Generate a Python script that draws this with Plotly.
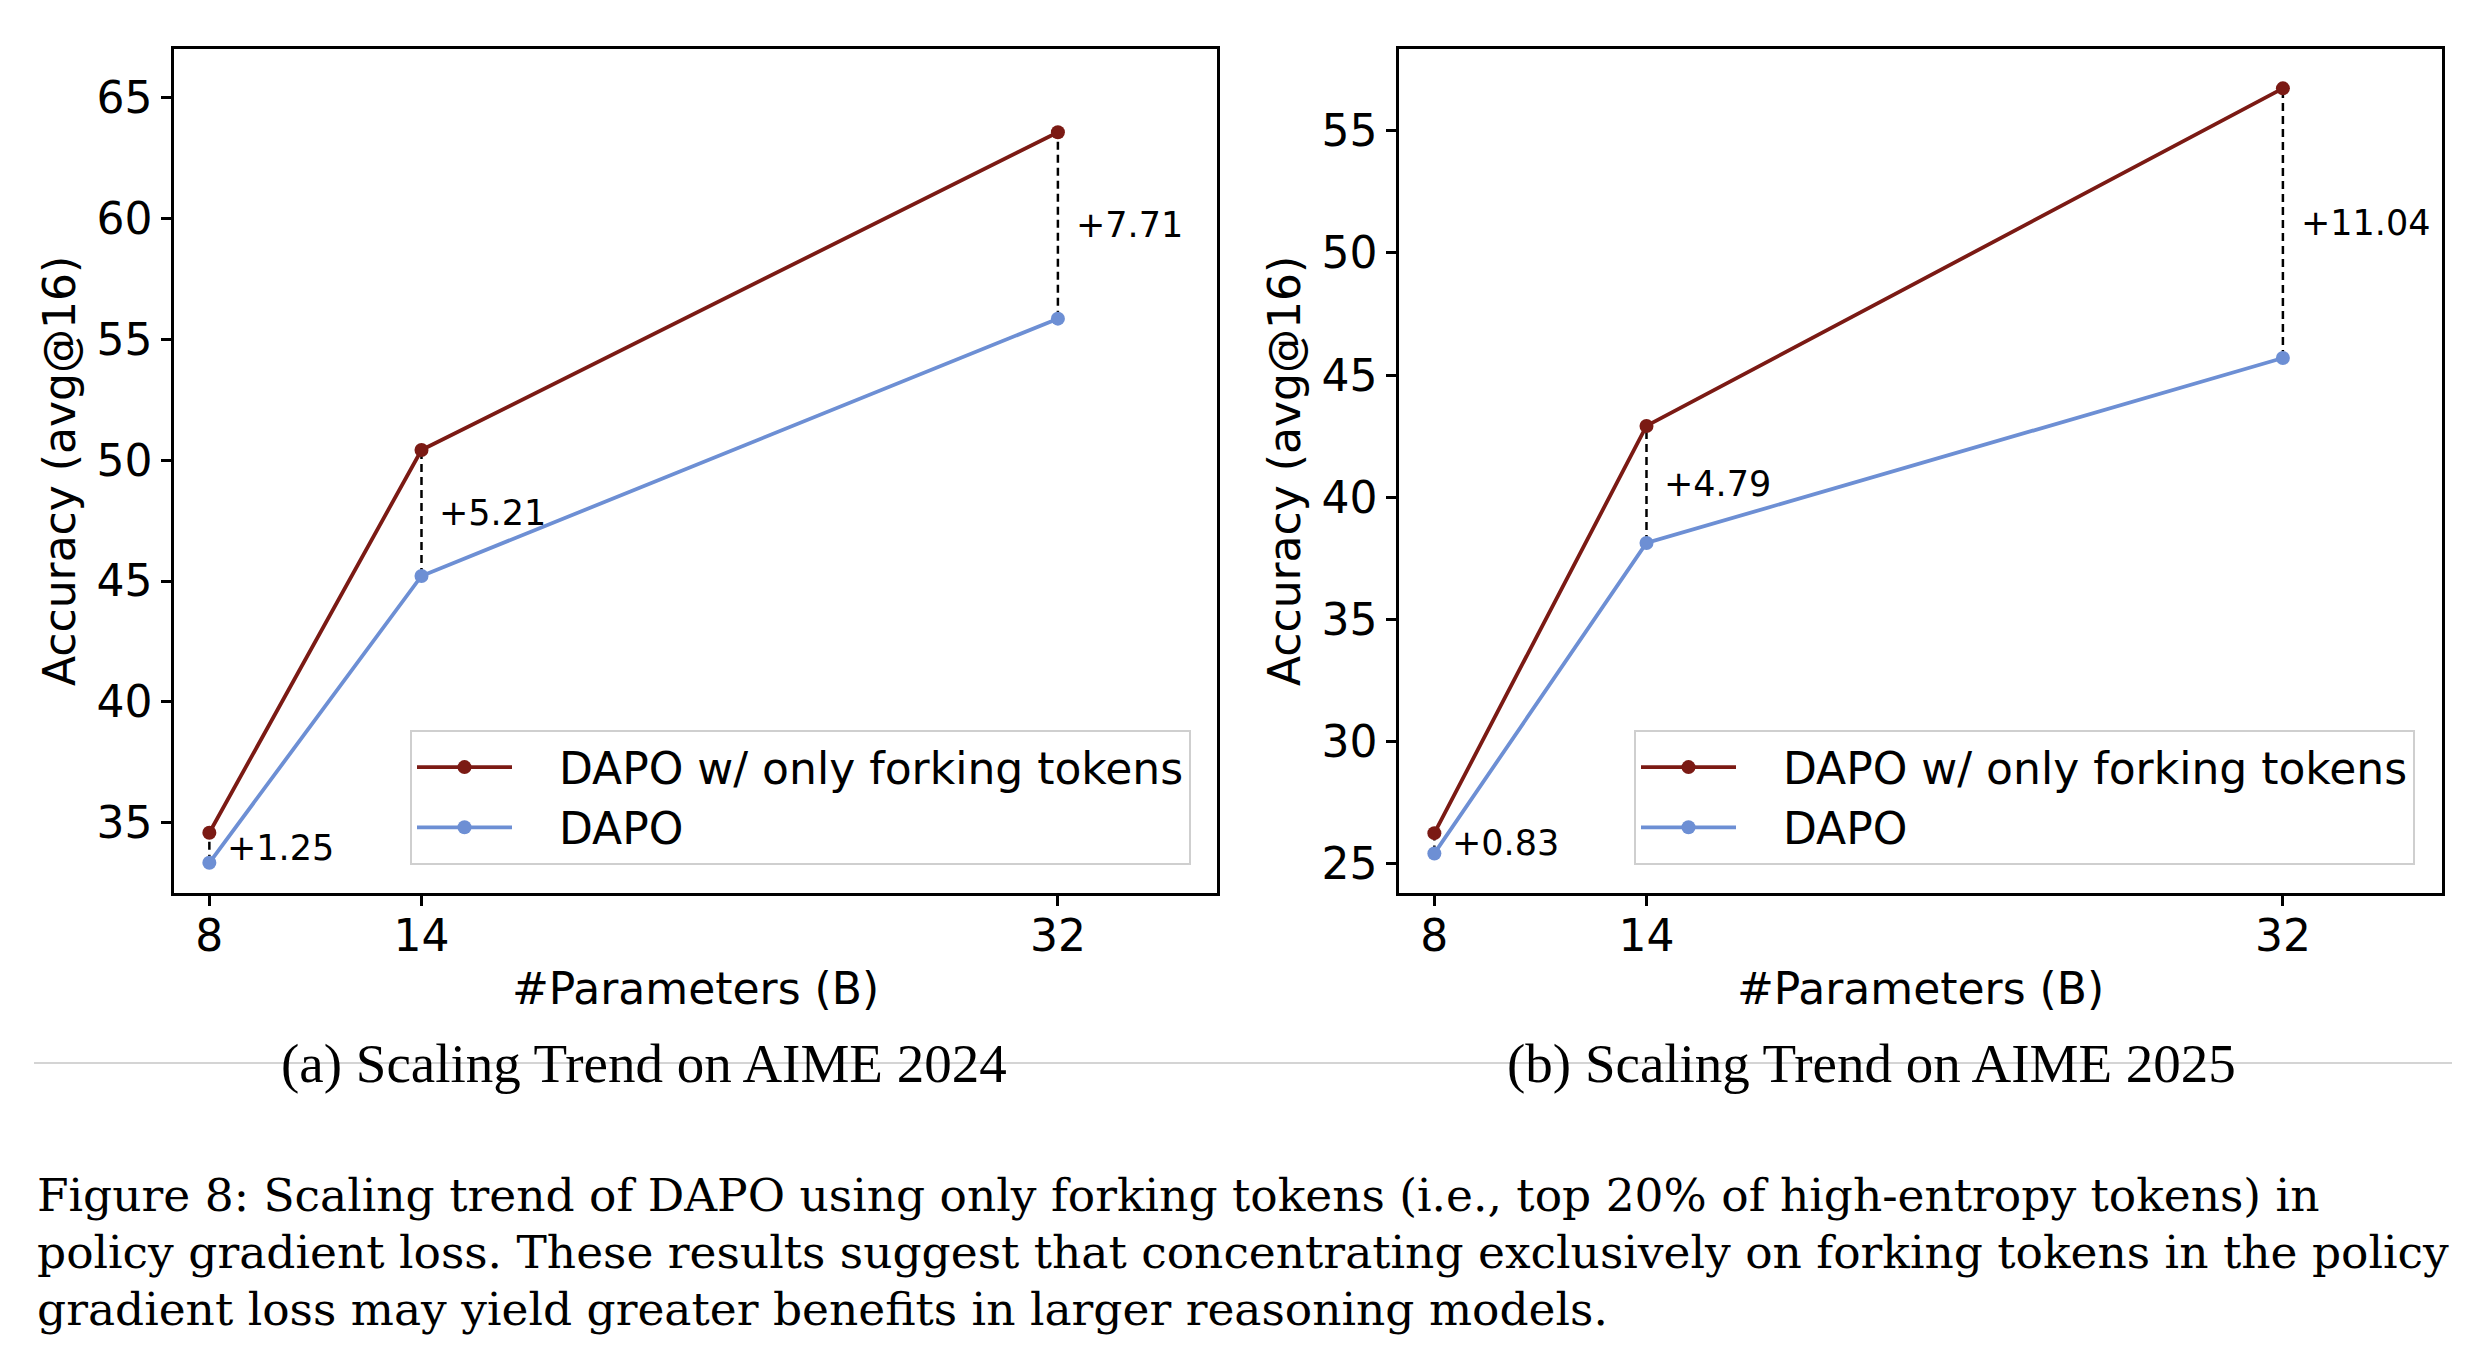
import plotly.graph_objects as go

# ---------------- data ----------------
params = [8, 14, 32]
x_ticks = [8, 14, 32]

aime24_forking = [34.59, 50.42, 63.56]
aime24_dapo = [33.35, 45.21, 55.85]
aime24_gain_labels = ["+1.25", "+5.21", "+7.71"]

aime25_forking = [26.25, 42.92, 56.74]
aime25_dapo = [25.42, 38.13, 45.70]
aime25_gain_labels = ["+0.83", "+4.79", "+11.04"]

y_ticks_24 = [35, 40, 45, 50, 55, 60, 65]
y_ticks_25 = [25, 30, 35, 40, 45, 50, 55]

series_names = ["DAPO w/ only forking tokens", "DAPO"]
subcaptions = ["(a) Scaling Trend on AIME 2024", "(b) Scaling Trend on AIME 2025"]
caption_lines = [
    "Figure 8: Scaling trend of DAPO using only forking tokens (i.e., top 20% of high-entropy tokens) in",
    "policy gradient loss. These results suggest that concentrating exclusively on forking tokens in the policy",
    "gradient loss may yield greater benefits in larger reasoning models.",
]

# ---------------- style ----------------
RED = "#7b1a14"
BLUE = "#6d8fd4"
PAGE_W, PAGE_H = 2476, 1358
OFF = 8  # default body margin of the html page
W, H = PAGE_W - 2 * OFF, PAGE_H - 2 * OFF
FONT = "DejaVu Sans"
SERIF = "Liberation Serif"
CAP_SERIF = "DejaVu Serif"


def px(xo):
    return (xo - OFF) / W


def py(yo):
    return 1 - (yo - OFF) / H


fig = go.Figure()

panels = [
    dict(xa="x", ya="y", legend="legend", fork=aime24_forking, dapo=aime24_dapo,
         gains=aime24_gain_labels),
    dict(xa="x2", ya="y2", legend="legend2", fork=aime25_forking, dapo=aime25_dapo,
         gains=aime25_gain_labels),
]

NB = "\u00a0\u00a0\u00a0"

for p in panels:
    for i, xv in enumerate(params):
        fig.add_trace(go.Scatter(
            x=[xv, xv], y=[p["dapo"][i], p["fork"][i]], mode="lines",
            line=dict(color="black", width=2.5, dash="8px,5px"),
            xaxis=p["xa"], yaxis=p["ya"], showlegend=False, hoverinfo="skip"))
    fig.add_trace(go.Scatter(
        x=params, y=p["fork"], mode="lines+markers", name=NB + series_names[0],
        line=dict(color=RED, width=3.8), marker=dict(color=RED, size=14),
        xaxis=p["xa"], yaxis=p["ya"], legend=p["legend"], legendgroup="a"))
    fig.add_trace(go.Scatter(
        x=params, y=p["dapo"], mode="lines+markers", name=NB + series_names[1],
        line=dict(color=BLUE, width=3.8), marker=dict(color=BLUE, size=14),
        xaxis=p["xa"], yaxis=p["ya"], legend=p["legend"], legendgroup="b"))
    for i, xv in enumerate(params):
        fig.add_annotation(
            x=xv, y=(p["fork"][i] + p["dapo"][i]) / 2, xref=p["xa"], yref=p["ya"],
            text=p["gains"][i], showarrow=False, xanchor="left", yanchor="middle",
            xshift=16, font=dict(family=FONT, size=35, color="black"))

ydom = [py(893), py(49)]
axis_common = dict(
    showline=True, mirror=True, linecolor="black", linewidth=2.5,
    ticks="outside", ticklen=10, tickwidth=2.5, tickcolor="black",
    showgrid=False, zeroline=False,
    tickfont=dict(family=FONT, size=44, color="black"),
)

legend_common = dict(
    xanchor="left", yanchor="top", bordercolor="#cfcfcf", borderwidth=2,
    bgcolor="rgba(255,255,255,0.8)", font=dict(family=FONT, size=44, color="black"),
    itemwidth=95, tracegroupgap=4, traceorder="normal")

fig.update_layout(
    width=W, height=H, margin=dict(l=0, r=0, t=0, b=0),
    paper_bgcolor="white", plot_bgcolor="white",
    font=dict(family=FONT, color="black"),
    xaxis=dict(domain=[px(174), px(1217)], range=[7, 36.5], tickvals=x_ticks,
               ticklabelstandoff=-8,
               title=dict(text="#Parameters (B)", font=dict(size=44), standoff=14),
               anchor="y", **axis_common),
    yaxis=dict(domain=ydom, range=[32.1, 67.0], tickvals=y_ticks_24,
               title=dict(text="Accuracy (avg@16)", font=dict(size=44), standoff=8),
               anchor="x", **axis_common),
    xaxis2=dict(domain=[px(1399), px(2442)], range=[7, 36.5], tickvals=x_ticks,
                ticklabelstandoff=-8,
                title=dict(text="#Parameters (B)", font=dict(size=44), standoff=14),
                anchor="y2", **axis_common),
    yaxis2=dict(domain=ydom, range=[23.8, 58.35], tickvals=y_ticks_25,
                title=dict(text="Accuracy (avg@16)", font=dict(size=44), standoff=8),
                anchor="x2", **axis_common),
    legend=dict(x=px(410), y=py(730), **legend_common),
    legend2=dict(x=px(1634), y=py(730), **legend_common),
)

# separator line behind subcaptions
fig.add_shape(type="line", xref="paper", yref="paper", x0=px(34), x1=px(2452),
              y0=py(1063), y1=py(1063), line=dict(color="#d4d4d4", width=2),
              layer="below")

for cx, txt in zip([644, 1871], subcaptions):
    fig.add_annotation(x=px(cx), y=py(1063), xref="paper", yref="paper", text=txt,
                       showarrow=False, xanchor="center", yanchor="middle",
                       font=dict(family=SERIF, size=55, color="black"))

for yy, txt in zip([1195, 1252, 1309], caption_lines):
    fig.add_annotation(x=px(35), y=py(yy), xref="paper", yref="paper", text=txt,
                       showarrow=False, xanchor="left", yanchor="middle",
                       font=dict(family=CAP_SERIF, size=45.5, color="black"))

fig.write_html("out.html")
